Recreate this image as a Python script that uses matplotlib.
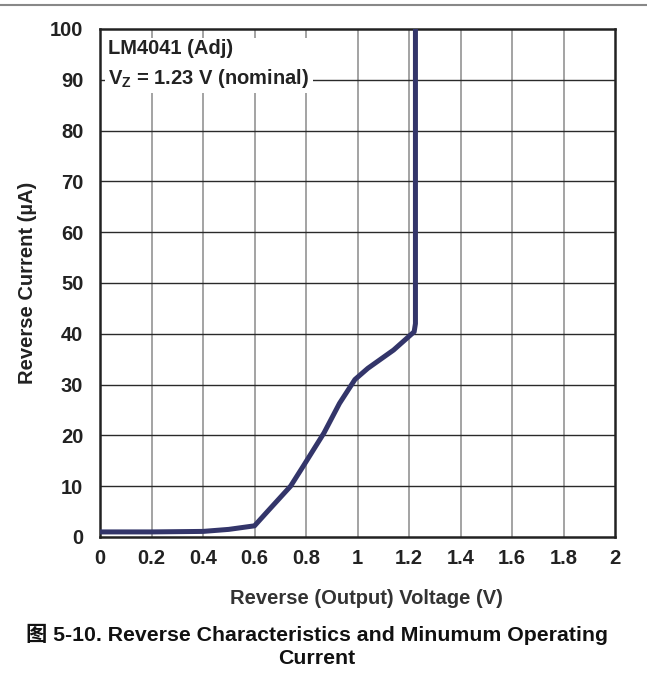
import matplotlib
matplotlib.use("Agg")
import matplotlib.pyplot as plt
from matplotlib.lines import Line2D

plt.rcParams['font.family'] = ['Liberation Sans', 'Noto Sans CJK SC', 'DejaVu Sans']
plt.rcParams['font.weight'] = 'bold'
plt.rcParams['axes.labelweight'] = 'bold'
plt.rcParams['mathtext.fontset'] = 'custom'
plt.rcParams['mathtext.rm'] = 'Liberation Sans:bold'
plt.rcParams['mathtext.bf'] = 'Liberation Sans:bold'
plt.rcParams['mathtext.it'] = 'Liberation Sans:bold'
plt.rcParams['mathtext.default'] = 'bf'

# Data
voltage = [0.0, 0.2, 0.4, 0.5, 0.6, 0.65, 0.74, 0.79, 0.87, 0.93, 0.99, 1.04, 1.14, 1.22, 1.225, 1.225]
current = [1.0, 1.0, 1.1, 1.5, 2.2, 5.0, 10.0, 14.0, 20.5, 26.3, 31.0, 33.2, 36.8, 40.4, 42.0, 100.0]
x_ticks = [0, 0.2, 0.4, 0.6, 0.8, 1.0, 1.2, 1.4, 1.6, 1.8, 2.0]
x_tick_labels = ['0', '0.2', '0.4', '0.6', '0.8', '1', '1.2', '1.4', '1.6', '1.8', '2']
y_ticks = [0, 10, 20, 30, 40, 50, 60, 70, 80, 90, 100]
y_tick_labels = [str(v) for v in y_ticks]

W, H = 647, 686
fig = plt.figure(figsize=(W / 100, H / 100), dpi=100)
ax = fig.add_axes([100 / W, 1 - 537 / H, 515 / W, 508 / H])

ax.plot(voltage, current, color='#33356a', lw=3.6, solid_joinstyle='round', solid_capstyle='butt', zorder=3)

ax.set_xlim(0, 2)
ax.set_ylim(0, 100)
ax.set_xticks(x_ticks)
ax.set_xticklabels(x_tick_labels)
ax.set_yticks(y_ticks)
ax.set_yticklabels(y_tick_labels)
ax.tick_params(axis='both', length=0, labelsize=14.5, colors='#222222')
ax.tick_params(axis='x', pad=9)
ax.tick_params(axis='y', pad=12)

for v in x_ticks[1:-1]:
    ax.axvline(v, color='#8a8a8a', lw=1.1, zorder=1)
for v in y_ticks[1:-1]:
    ax.axhline(v, color='#2a2a2a', lw=1.0, zorder=1)

for s in ax.spines.values():
    s.set_linewidth(1.8)
    s.set_color('#222222')

ax.set_xlabel('Reverse (Output) Voltage (V)', fontsize=14.5, color='#333333')
ax.xaxis.set_label_coords(266 / 515, -(589 - 537) / 508)
ax.set_ylabel('Reverse Current (\u00b5A)', fontsize=14.5, color='#222222', labelpad=9)

ax.text(8 / 515, 1 - 10 / 508, 'LM4041 (Adj)\nV$_{Z}$ = 1.23 V (nominal)',
        transform=ax.transAxes, fontsize=14.5, color='#222222', ha='left', va='top',
        linespacing=1.52, zorder=4,
        bbox=dict(facecolor='white', edgecolor='none', pad=2.5))

fig.text(317 / W, 1 - 646 / H, '图 5-10. Reverse Characteristics and Minumum Operating\nCurrent',
         ha='center', va='center', fontsize=15.3, color='#111111', linespacing=1.3,
         multialignment='center')

fig.add_artist(Line2D([0, 1], [1 - 5 / H, 1 - 5 / H], transform=fig.transFigure,
                      color='#888888', lw=1.5))

fig.savefig('out.png', dpi=100)
